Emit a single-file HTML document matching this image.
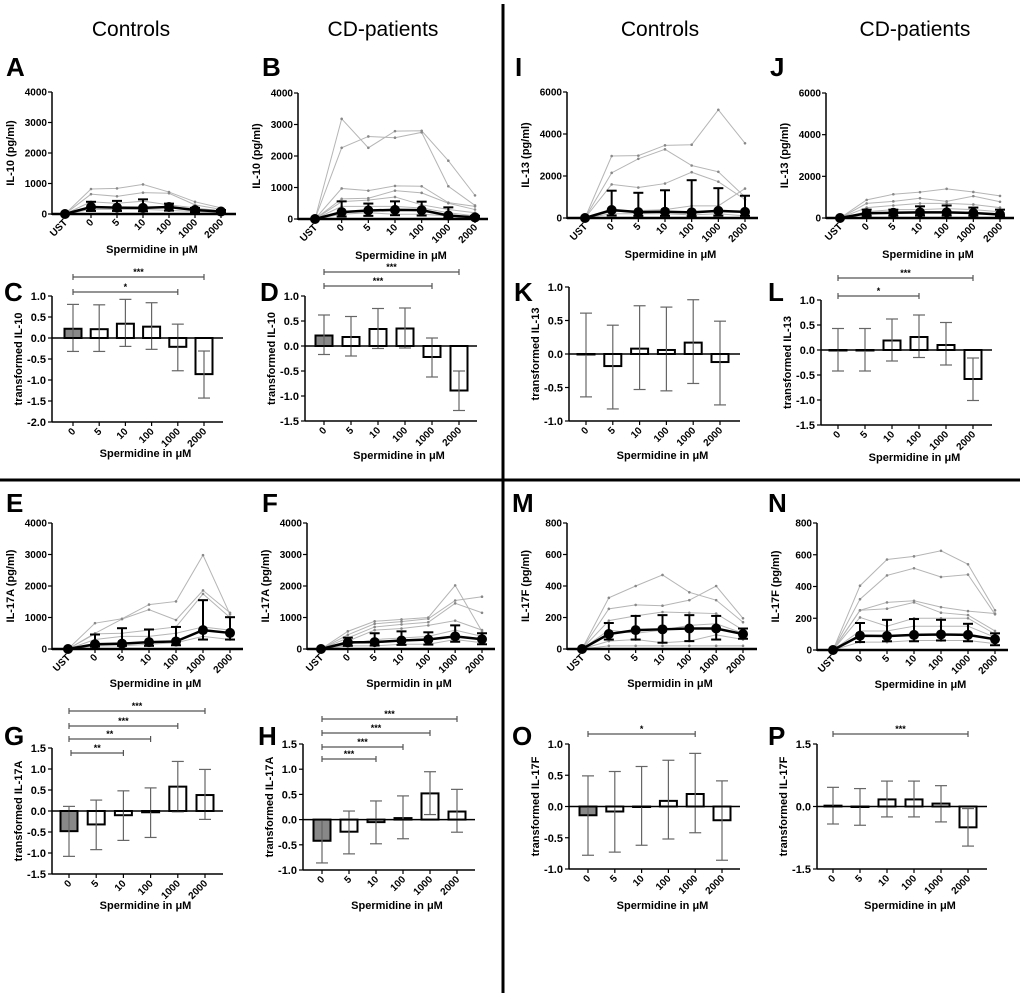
<!DOCTYPE html>
<html><head><meta charset="utf-8">
<style>
body{margin:0;background:#fff;}
svg{display:block;font-family:"Liberation Sans",Arial,sans-serif;}
.tk{font-size:10px;font-weight:bold;fill:#000;}
.at{font-size:11px;font-weight:bold;fill:#000;}
.lt{font-size:26px;font-weight:bold;fill:#000;}
.ct{font-size:21px;fill:#000;}
</style></head>
<body>
<svg id="fig" width="1020" height="993" viewBox="0 0 1020 993">
<rect width="1020" height="993" fill="#fff"/>
<text class="ct" x="131" y="36" text-anchor="middle">Controls</text>
<text class="ct" x="383" y="36" text-anchor="middle">CD-patients</text>
<text class="ct" x="660" y="36" text-anchor="middle">Controls</text>
<text class="ct" x="915" y="36" text-anchor="middle">CD-patients</text>
<line x1="503" y1="4" x2="503" y2="993" stroke="#000" stroke-width="3"/>
<line x1="0" y1="480" x2="1020" y2="480" stroke="#000" stroke-width="3"/>
</svg>
<script>
const lineCats=["UST","0","5","10","100","1000","2000"];
const barCats=["0","5","10","100","1000","2000"];
// Line chart data
const A_mean=[0,230,210,200,230,130,80];
const A_upper=[0,400,430,480,340,200,130];
const A_lower=[0,100,100,90,110,60,40];
const A_indiv=[[0,820,840,970,720,400,200],[0,650,580,700,680,300,150],[0,400,350,420,300,200,100],[0,150,150,150,120,80,50]];
const B_mean=[0,220,270,290,280,110,50];
const B_upper=[0,560,490,560,550,370,100];
const B_lower=[0,80,100,120,110,40,20];
const B_indiv=[[0,3180,2260,2790,2800,1850,750],[0,2260,2620,2580,2750,1040,430],[0,970,900,1050,1040,520,400],[0,640,660,900,830,500,300],[0,550,600,700,450,300,200],[0,400,400,400,350,200,100],[0,150,200,150,150,100,50]];
const I_mean=[0,380,280,300,270,340,290];
const I_upper=[0,1300,1200,1320,1800,1420,1060];
const I_lower=[0,120,100,100,90,110,100];
const I_indiv=[[0,2950,2970,3460,3490,5150,3560],[0,2150,2820,3270,2500,2200,1000],[0,1600,1450,1640,2180,1730,880],[0,300,350,400,580,580,1400],[0,200,200,200,150,200,100]];
const J_mean=[0,230,250,270,270,240,170];
const J_upper=[0,400,400,560,600,500,400];
const J_lower=[0,100,110,120,120,110,80];
const J_indiv=[[0,870,1140,1240,1400,1250,1060],[0,700,800,950,800,1050,780],[0,500,600,700,700,650,500],[0,300,400,400,450,400,300]];
const E_mean=[0,150,170,220,240,600,510];
const E_upper=[0,460,660,620,700,1550,1010];
const E_lower=[0,80,100,100,120,300,300];
const E_indiv=[[0,820,960,1410,1510,2980,1100],[0,500,950,1250,920,1860,1150],[0,480,500,600,700,1750,1000],[0,300,400,400,500,700,600],[0,100,100,150,200,400,300]];
const F_mean=[0,210,220,270,300,400,310];
const F_upper=[0,360,500,560,530,750,500];
const F_lower=[0,100,110,130,140,230,150];
const F_indiv=[[0,560,880,940,1000,2020,560],[0,450,800,870,960,1540,1660],[0,350,700,780,850,1450,1150],[0,250,600,650,750,900,600],[0,150,300,350,400,600,400],[0,100,100,150,150,300,200]];
const M_mean=[0,95,120,125,130,130,95];
const M_upper=[0,165,210,215,215,210,130];
const M_lower=[0,60,60,40,50,60,65];
const M_indiv=[[0,325,400,470,360,310,170],[0,255,280,275,310,400,195],[0,180,210,235,230,225,120],[0,120,100,120,150,160,100],[0,50,60,40,50,90,60],[0,20,20,20,20,20,20]];
const N_mean=[0,90,88,95,98,95,68];
const N_upper=[0,170,190,195,190,165,105];
const N_lower=[0,50,55,55,60,55,30];
const N_indiv=[[0,405,570,590,625,540,250],[0,320,470,515,460,475,225],[0,250,300,310,270,245,230],[0,250,260,300,235,220,120],[0,205,150,200,200,200,100],[0,120,120,150,150,150,80],[0,50,50,60,60,60,40]];
const ticks4000=[0,1000,2000,3000,4000];
const ticks6000=[0,2000,4000,6000];
const ticks800=[0,200,400,600,800];
// Bar chart data
const C_vals=[0.22,0.21,0.34,0.27,-0.21,-0.86];
const C_lo=[-0.32,-0.32,-0.2,-0.27,-0.78,-1.43];
const C_hi=[0.8,0.79,0.92,0.84,0.33,-0.31];
const D_vals=[0.21,0.18,0.34,0.35,-0.22,-0.89];
const D_lo=[-0.17,-0.2,-0.05,-0.04,-0.62,-1.29];
const D_hi=[0.62,0.59,0.75,0.76,0.16,-0.5];
const K_vals=[0,-0.18,0.08,0.06,0.17,-0.12];
const K_lo=[-0.64,-0.82,-0.53,-0.55,-0.44,-0.76];
const K_hi=[0.61,0.43,0.72,0.7,0.81,0.49];
const L_vals=[0,0,0.19,0.26,0.1,-0.58];
const L_lo=[-0.42,-0.42,-0.22,-0.15,-0.3,-1.01];
const L_hi=[0.43,0.43,0.62,0.7,0.55,-0.16];
const G_vals=[-0.48,-0.32,-0.1,-0.03,0.58,0.38];
const G_lo=[-1.08,-0.92,-0.7,-0.63,-0.02,-0.2];
const G_hi=[0.11,0.26,0.48,0.55,1.18,0.99];
const H_vals=[-0.42,-0.24,-0.05,0.03,0.52,0.16];
const H_lo=[-0.86,-0.68,-0.48,-0.38,0.1,-0.25];
const H_hi=[0,0.17,0.37,0.47,0.95,0.6];
const O_vals=[-0.14,-0.08,0,0.09,0.2,-0.22];
const O_lo=[-0.78,-0.73,-0.62,-0.52,-0.42,-0.86];
const O_hi=[0.49,0.56,0.64,0.74,0.85,0.41];
const P_vals=[0.02,0,0.17,0.17,0.07,-0.5];
const P_lo=[-0.42,-0.45,-0.25,-0.25,-0.37,-0.95];
const P_hi=[0.46,0.43,0.61,0.61,0.5,-0.05];
const ticksC=[1.0,0.5,0.0,-0.5,-1.0,-1.5,-2.0];
const ticks15_15=[1.5,1.0,0.5,0.0,-0.5,-1.0,-1.5];
const ticks1_15=[1.0,0.5,0.0,-0.5,-1.0,-1.5];
const ticks1_1=[1.0,0.5,0.0,-0.5,-1.0];
const ticks15_1=[1.5,1.0,0.5,0.0,-0.5,-1.0];
const ticksP=[1.5,0.0,-1.5];
const sig_C=[["***",0,5],["*",0,4]];
const sig_D=[["***",0,5],["***",0,4]];
const sig_L=[["***",0,5],["*",0,3]];
const sig_G=[["***",0,5],["***",0,4],["**",0,3],["**",0,2]];
const sig_H=[["***",0,5],["***",0,4],["***",0,3],["***",0,2]];
const sig_O=[["*",0,4]];
const sig_P=[["***",0,5]];

const NS="http://www.w3.org/2000/svg";
const svg=document.getElementById("fig");
function mk(tag,attrs,parent){const e=document.createElementNS(NS,tag);for(const k in attrs)e.setAttribute(k,attrs[k]);(parent||svg).appendChild(e);return e;}
function fmt(v){return v.toFixed(1);}

function lineChart(c,mean,upper,lower,indiv,ticks){
  const g=mk("g",{});
  
  
  const ymax=ticks[ticks.length-1];
  const y=v=>c.y0-(v/ymax)*(c.y0-c.y1);
  const x=i=>c.xs+i*(c.xe-c.xs)/(lineCats.length-1);
  const lt=mk("text",{x:c.lx,y:c.ly,class:"lt"},g);lt.textContent=c.id;
  
  
  indiv.forEach(s=>{
    const p=mk("polyline",{points:s.map((v,i)=>x(i)+","+y(v)).join(" "),fill:"none",stroke:"#b5b5b5","stroke-width":1},g);
    
    
    s.forEach((v,i)=>{if(i>0){const d=mk("circle",{cx:x(i),cy:y(v),r:1.3,fill:"#888"},g);
      
      }});
  });
  mean.forEach((v,i)=>{if(i>0){
    const e=mk("line",{x1:x(i),x2:x(i),y1:y(upper[i]),y2:y(lower[i]),stroke:"#000","stroke-width":2},g);
    
    
    mk("line",{x1:x(i)-5,x2:x(i)+5,y1:y(upper[i]),y2:y(upper[i]),stroke:"#000","stroke-width":2},g);
    mk("line",{x1:x(i)-5,x2:x(i)+5,y1:y(lower[i]),y2:y(lower[i]),stroke:"#000","stroke-width":2},g);
  }});
  const ml=mk("polyline",{points:mean.map((v,i)=>x(i)+","+y(v)).join(" "),fill:"none",stroke:"#000","stroke-width":2.5},g);
  
  
  mean.forEach((v,i)=>{const d=mk("circle",{cx:x(i),cy:y(v),r:5,fill:"#000"},g);
    
    });
  const ya=mk("line",{x1:c.ax,x2:c.ax,y1:c.y1,y2:c.y0+1,stroke:"#000","stroke-width":1.5},g);
  
  
  const xa=mk("line",{x1:c.ax,x2:c.axEnd,y1:c.y0,y2:c.y0,stroke:"#000","stroke-width":2.5},g);
  
  
  ticks.forEach(t=>{
    mk("line",{x1:c.ax-4,x2:c.ax,y1:y(t),y2:y(t),stroke:"#000","stroke-width":1.2},g);
    const tx=mk("text",{x:c.ax-5,y:y(t)+3.5,class:"tk","text-anchor":"end"},g);tx.textContent=t;
    
    
  });
  lineCats.forEach((cat,i)=>{
    mk("line",{x1:x(i),x2:x(i),y1:c.y0,y2:c.y0+4,stroke:"#000","stroke-width":1.2},g);
    const tx=mk("text",{x:x(i)+3,y:c.y0+9,class:"tk","text-anchor":"end",transform:`rotate(-45 ${x(i)+3} ${c.y0+9})`},g);tx.textContent=cat;
    
    
  });
  const yt=mk("text",{x:0,y:0,class:"at","text-anchor":"middle",transform:`translate(${c.ax-38},${(c.y0+c.y1)/2}) rotate(-90)`},g);yt.textContent=c.ytitle;
  
  
  const xt=mk("text",{x:(c.ax+c.axEnd)/2+8,y:c.xty,class:"at","text-anchor":"middle"},g);xt.textContent=c.xtitle;
  
  
}

function barChart(c,vals,lo,hi,ticks,sig){
  const g=mk("g",{});
  
  
  const tmax=ticks[0],tmin=ticks[ticks.length-1];
  const y=v=>c.yTop+(tmax-v)/(tmax-tmin)*(c.yBot-c.yTop);
  const x=i=>c.xs+i*(c.xe-c.xs)/(barCats.length-1);
  const lt=mk("text",{x:c.lx,y:c.ly,class:"lt"},g);lt.textContent=c.id;
  
  
  vals.forEach((v,i)=>{
    const top=Math.min(y(v),y(0)),h=Math.abs(y(v)-y(0));
    const r=mk("rect",{x:x(i)-8.5,y:top,width:17,height:Math.max(h,0.5),fill:(i===0&&c.greyFirst)?"#888":"#fff",stroke:"#000","stroke-width":2},g);
    
    
    const e=mk("line",{x1:x(i),x2:x(i),y1:y(hi[i]),y2:y(lo[i]),stroke:"#666","stroke-width":1.2},g);
    
    
    mk("line",{x1:x(i)-6,x2:x(i)+6,y1:y(hi[i]),y2:y(hi[i]),stroke:"#666","stroke-width":1.2},g);
    mk("line",{x1:x(i)-6,x2:x(i)+6,y1:y(lo[i]),y2:y(lo[i]),stroke:"#666","stroke-width":1.2},g);
  });
  const ya=mk("line",{x1:c.ax,x2:c.ax,y1:c.yTop,y2:c.yBot,stroke:"#000","stroke-width":1.5},g);
  
  
  const xa=mk("line",{x1:c.ax,x2:c.axEnd,y1:y(0),y2:y(0),stroke:"#000","stroke-width":1.5},g);
  
  
  const xb=mk("line",{x1:c.ax,x2:c.axEnd,y1:c.yBot,y2:c.yBot,stroke:"#000","stroke-width":1.5},g);
  
  
  ticks.forEach(t=>{
    mk("line",{x1:c.ax-4,x2:c.ax,y1:y(t),y2:y(t),stroke:"#000","stroke-width":1.2},g);
    const tx=mk("text",{x:c.ax-6,y:y(t)+4,class:"tk","text-anchor":"end",style:"font-size:11px"},g);tx.textContent=fmt(t);
    
    
  });
  barCats.forEach((cat,i)=>{
    mk("line",{x1:x(i),x2:x(i),y1:c.yBot,y2:c.yBot+4,stroke:"#000","stroke-width":1.2},g);
    const tx=mk("text",{x:x(i)+3,y:c.yBot+10,class:"tk","text-anchor":"end",transform:`rotate(-45 ${x(i)+3} ${c.yBot+10})`},g);tx.textContent=cat;
    
    
  });
  (sig||[]).forEach((s,k)=>{
    const yy=c.sigY[k],x1=x(s[1])+(k===sig.length-1&&c.sigShift?2:0),x2=x(s[2]);
    const l=mk("line",{x1:x1,x2:x2,y1:yy,y2:yy,stroke:"#555","stroke-width":1.2},g);
    
    
    mk("line",{x1:x1,x2:x1,y1:yy-3,y2:yy+3,stroke:"#555","stroke-width":1.2},g);
    mk("line",{x1:x2,x2:x2,y1:yy-3,y2:yy+3,stroke:"#555","stroke-width":1.2},g);
    const st=mk("text",{x:(x1+x2)/2,y:yy-2,class:"tk","text-anchor":"middle",style:"font-size:9px"},g);st.textContent=s[0];
    
    
  });
  const yt=mk("text",{x:0,y:0,class:"at","text-anchor":"middle",transform:`translate(${c.ax-30},${(c.yTop+c.yBot)/2}) rotate(-90)`},g);yt.textContent=c.ytitle;
  
  
  const xt=mk("text",{x:(c.ax+c.axEnd)/2+8,y:c.xty,class:"at","text-anchor":"middle"},g);xt.textContent=c.xtitle;
  
  
}
const SP="Spermidine in \u03bcM",SPn="Spermidin in \u03bcM";
lineChart({id:"A",lx:6,ly:76,ax:52,axEnd:236,y0:214,y1:92,xs:65,xe:221,ytitle:"IL-10 (pg/ml)",xtitle:SP,xty:253},A_mean,A_upper,A_lower,A_indiv,ticks4000);
lineChart({id:"B",lx:262,ly:76,ax:298,axEnd:488,y0:219,y1:93,xs:315,xe:475,ytitle:"IL-10 (pg/ml)",xtitle:SP,xty:259},B_mean,B_upper,B_lower,B_indiv,ticks4000);
lineChart({id:"I",lx:515,ly:76,ax:567,axEnd:758,y0:218,y1:92,xs:585,xe:745,ytitle:"IL-13 (pg/ml)",xtitle:SP,xty:258},I_mean,I_upper,I_lower,I_indiv,ticks6000);
lineChart({id:"J",lx:770,ly:76,ax:826,axEnd:1014,y0:218,y1:93,xs:840,xe:1000,ytitle:"IL-13 (pg/ml)",xtitle:SP,xty:258},J_mean,J_upper,J_lower,J_indiv,ticks6000);
lineChart({id:"E",lx:6,ly:512,ax:52,axEnd:243,y0:649,y1:523,xs:68,xe:230,ytitle:"IL-17A (pg/ml)",xtitle:SP,xty:687},E_mean,E_upper,E_lower,E_indiv,ticks4000);
lineChart({id:"F",lx:262,ly:512,ax:307,axEnd:495,y0:649,y1:523,xs:321,xe:482,ytitle:"IL-17A (pg/ml)",xtitle:SPn,xty:687},F_mean,F_upper,F_lower,F_indiv,ticks4000);
lineChart({id:"M",lx:512,ly:512,ax:567,axEnd:757,y0:649,y1:523,xs:582,xe:743,ytitle:"IL-17F (pg/ml)",xtitle:SPn,xty:687},M_mean,M_upper,M_lower,M_indiv,ticks800);
lineChart({id:"N",lx:768,ly:512,ax:817,axEnd:1008,y0:650,y1:523,xs:833,xe:995,ytitle:"IL-17F (pg/ml)",xtitle:SP,xty:688},N_mean,N_upper,N_lower,N_indiv,ticks800);
barChart({id:"C",lx:4,ly:301,ax:52,axEnd:223,yTop:296,yBot:422,xs:73,xe:204,greyFirst:true,sigY:[277,292],ytitle:"transformed IL-10",xtitle:SP,xty:457},C_vals,C_lo,C_hi,ticksC,sig_C);
barChart({id:"D",lx:260,ly:301,ax:305,axEnd:477,yTop:296,yBot:421,xs:324,xe:459,greyFirst:true,sigY:[272,286],ytitle:"transformed IL-10",xtitle:SP,xty:459},D_vals,D_lo,D_hi,ticks1_15,sig_D);
barChart({id:"K",lx:514,ly:301,ax:569,axEnd:740,yTop:287,yBot:421,xs:586,xe:720,greyFirst:false,sigY:[],ytitle:"transformed IL-13",xtitle:SP,xty:459},K_vals,K_lo,K_hi,ticks1_1,null);
barChart({id:"L",lx:768,ly:301,ax:821,axEnd:992,yTop:300,yBot:425,xs:838,xe:973,greyFirst:false,sigY:[278,296],ytitle:"transformed IL-13",xtitle:SP,xty:461},L_vals,L_lo,L_hi,ticks1_15,sig_L);
barChart({id:"G",lx:4,ly:745,ax:52,axEnd:223,yTop:748,yBot:874,xs:69,xe:205,greyFirst:true,sigY:[711,726,739,753],sigShift:true,ytitle:"transformed IL-17A",xtitle:SP,xty:909},G_vals,G_lo,G_hi,ticks15_15,sig_G);
barChart({id:"H",lx:258,ly:745,ax:303,axEnd:475,yTop:744,yBot:870,xs:322,xe:457,greyFirst:true,sigY:[719,733,747,759],ytitle:"transformed IL-17A",xtitle:SP,xty:909},H_vals,H_lo,H_hi,ticks15_1,sig_H);
barChart({id:"O",lx:512,ly:745,ax:569,axEnd:740,yTop:744,yBot:869,xs:588,xe:722,greyFirst:true,sigY:[734],ytitle:"transformed IL-17F",xtitle:SP,xty:909},O_vals,O_lo,O_hi,ticks1_1,sig_O);
barChart({id:"P",lx:768,ly:745,ax:817,axEnd:987,yTop:744,yBot:869,xs:833,xe:968,greyFirst:false,sigY:[734],ytitle:"transformed IL-17F",xtitle:SP,xty:909},P_vals,P_lo,P_hi,ticksP,sig_P);
</script>
</body></html>
